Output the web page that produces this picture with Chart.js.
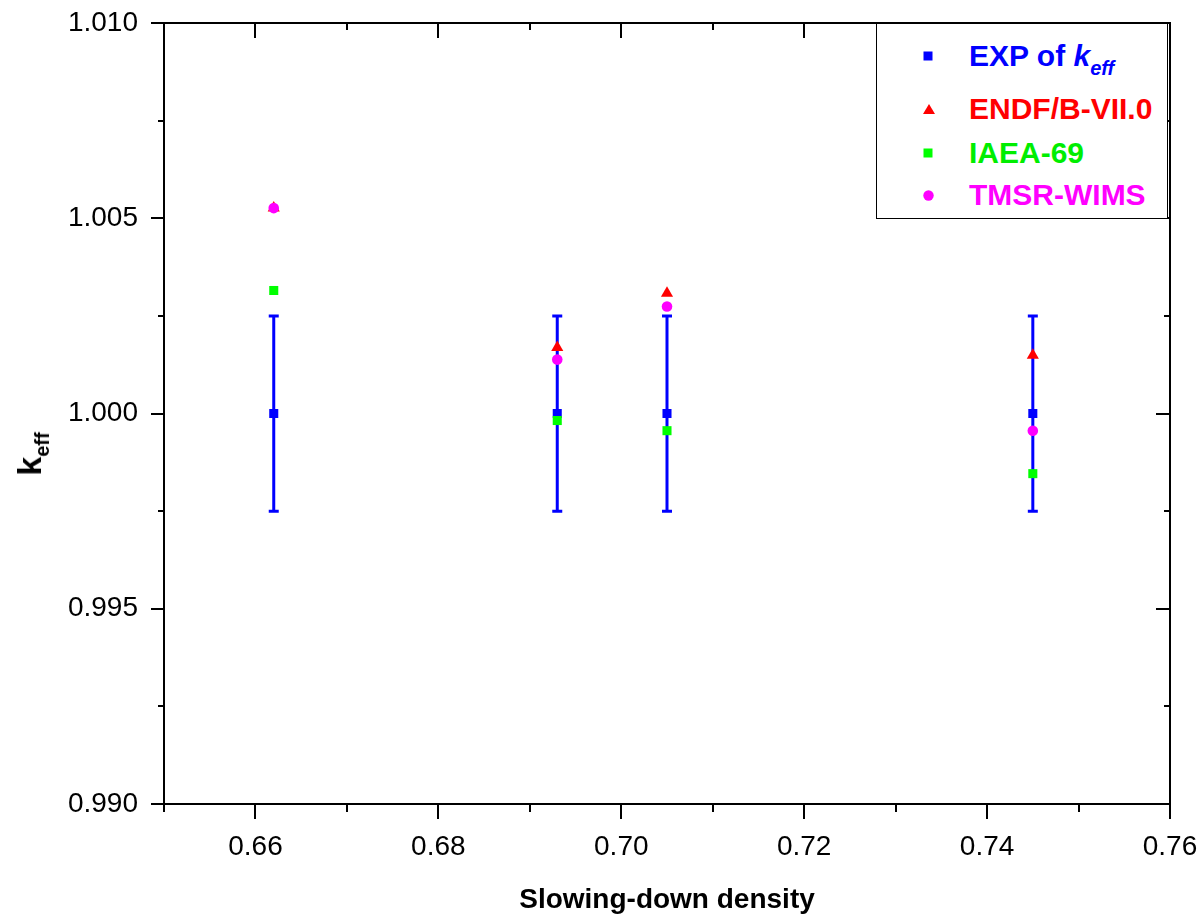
<!DOCTYPE html>
<html>
<head>
<meta charset="utf-8">
<script src="https://cdn.jsdelivr.net/npm/chart.js@4/dist/chart.umd.min.js"></script>
<style>
  body { margin: 0; background: #fff; }
  #wrap { position: relative; width: 1204px; height: 917px; font-family: "Liberation Sans", Arial, sans-serif; }
  #legend { position: absolute; left: 876px; top: 23px; width: 292px; height: 196px; border: 1px solid #000; box-sizing: border-box; background: #fff; }
  .row { position: absolute; left: 0; font-weight: bold; font-size: 30px; line-height: 30px; white-space: nowrap; }
  .mk { position: absolute; left: 46px; }
  .txt { position: absolute; left: 92px; top: 0; }
  #ytitle { position: absolute; left: 32px; top: 454px; transform: translate(-50%, -50%) rotate(-90deg); font-weight: bold; font-size: 34px; white-space: nowrap; }
  #ytitle sub { font-size: 20px; vertical-align: -8px; }
</style>
</head>
<body>
<div id="wrap">
  <canvas id="chart" width="1204" height="917"></canvas>
  <div id="ytitle">k<sub>eff</sub></div>
  <div id="legend">
    <div class="row" style="top:17px;color:#0000ff">
      <svg class="mk" style="top:10px" width="10" height="10"><rect x="0.5" y="0.5" width="9" height="9" fill="#0000ff"/></svg>
      <span class="txt">EXP of <i>k</i><sub style="font-size:20px;font-style:italic;vertical-align:-9px">eff</sub></span>
    </div>
    <div class="row" style="top:70px;color:#ff0000">
      <svg class="mk" style="top:9px" width="12" height="12"><polygon points="6,1 12,11 0,11" fill="#ff0000"/></svg>
      <span class="txt">ENDF/B-VII.0</span>
    </div>
    <div class="row" style="top:114px;color:#00ee00">
      <svg class="mk" style="top:10px" width="10" height="10"><rect x="0.5" y="0.5" width="9" height="9" fill="#00ff00"/></svg>
      <span class="txt">IAEA-69</span>
    </div>
    <div class="row" style="top:156px;color:#ff00ff">
      <svg class="mk" style="top:10px" width="11" height="11"><circle cx="5.5" cy="5.5" r="5.2" fill="#ff00ff"/></svg>
      <span class="txt">TMSR-WIMS</span>
    </div>
  </div>
</div>
<script>
// slowing-down density of each case
const density = [0.662, 0.693, 0.705, 0.745];

// k_eff values
const expKeff = [1.000, 1.000, 1.000, 1.000];
const expErr = [0.0025, 0.0025, 0.0025, 0.0025];
const endfKeff = [1.00526, 1.00169, 1.00308, 1.00149];
const iaeaKeff = [1.00315, 0.99982, 0.99956, 0.99846];
const tmsrKeff = [1.00526, 1.00138, 1.00274, 0.99956];

// axis ticks
const xTicks = [0.66, 0.68, 0.70, 0.72, 0.74, 0.76];
const xMinor = [0.65, 0.67, 0.69, 0.71, 0.73, 0.75];
const yTicks = [0.990, 0.995, 1.000, 1.005, 1.010];
const yMinor = [0.9925, 0.9975, 1.0025, 1.0075];

const pts = (ys) => density.map((x, i) => ({ x: x, y: ys[i] }));

// error bars for the experiment points
const errorBars = {
    id: "errorBars",
    beforeDatasetsDraw(chart) {
        const { ctx, scales: { x, y } } = chart;
        ctx.save();
        ctx.strokeStyle = "#0000ff";
        ctx.lineWidth = 3;
        density.forEach((d, i) => {
            const px = x.getPixelForValue(d);
            const top = y.getPixelForValue(expKeff[i] + expErr[i]);
            const bot = y.getPixelForValue(expKeff[i] - expErr[i]);
            ctx.beginPath();
            ctx.moveTo(px, top); ctx.lineTo(px, bot);
            ctx.moveTo(px - 5, top); ctx.lineTo(px + 5, top);
            ctx.moveTo(px - 5, bot); ctx.lineTo(px + 5, bot);
            ctx.stroke();
        });
        ctx.restore();
    }
};

// frame and tick marks (outward left/bottom, inward top/right)
const frame = {
    id: "frame",
    afterDraw(chart) {
        const { ctx, chartArea: a, scales: { x, y } } = chart;
        ctx.save();
        ctx.strokeStyle = "#000";
        ctx.lineWidth = 2;
        ctx.strokeRect(a.left, a.top, a.right - a.left, a.bottom - a.top);
        ctx.beginPath();
        const tickX = (v, out, inn) => {
            const px = Math.round(x.getPixelForValue(v));
            ctx.moveTo(px, a.bottom); ctx.lineTo(px, a.bottom + out);
            ctx.moveTo(px, a.top); ctx.lineTo(px, a.top + inn);
        };
        const tickY = (v, out, inn) => {
            const py = Math.round(y.getPixelForValue(v));
            ctx.moveTo(a.left, py); ctx.lineTo(a.left - out, py);
            ctx.moveTo(a.right, py); ctx.lineTo(a.right - inn, py);
        };
        xTicks.forEach(v => tickX(v, 15, 15));
        xMinor.forEach(v => tickX(v, 8, 7));
        yTicks.forEach(v => tickY(v, 13, 14));
        yMinor.forEach(v => tickY(v, 6, 6));
        ctx.stroke();
        ctx.restore();
    }
};

new Chart(document.getElementById("chart"), {
    type: "scatter",
    data: {
        datasets: [
            { label: "EXP of keff", data: pts(expKeff), order: 3, pointStyle: "rect", pointRadius: 6.4, backgroundColor: "#0000ff", borderWidth: 0 },
            { label: "ENDF/B-VII.0", data: pts(endfKeff), order: 2, pointStyle: "triangle", pointRadius: 7, backgroundColor: "#ff0000", borderWidth: 0 },
            { label: "IAEA-69", data: pts(iaeaKeff), order: 1, pointStyle: "rect", pointRadius: 6.4, backgroundColor: "#00ff00", borderWidth: 0 },
            { label: "TMSR-WIMS", data: pts(tmsrKeff), order: 0, pointStyle: "circle", pointRadius: 5.3, backgroundColor: "#ff00ff", borderWidth: 0 }
        ]
    },
    options: {
        responsive: false,
        animation: false,
        layout: { padding: { top: 23, right: 34, left: 0, bottom: 0 } },
        plugins: { legend: { display: false }, tooltip: { enabled: false } },
        scales: {
            x: {
                min: 0.65, max: 0.76,
                grid: { display: false, drawTicks: false },
                border: { display: false },
                afterBuildTicks: (s) => { s.ticks = xTicks.map(v => ({ value: v })); },
                afterFit: (s) => { s.height = 113; s.paddingLeft = 0; s.paddingRight = 0; },
                ticks: { color: "#000", padding: 26, font: { family: "Liberation Sans", size: 28 }, callback: (v) => v.toFixed(2) },
                title: { display: true, text: "Slowing-down density", color: "#000", padding: { top: 0, bottom: 0 }, font: { family: "Liberation Sans", size: 28, weight: "bold" } }
            },
            y: {
                min: 0.990, max: 1.010,
                grid: { display: false, drawTicks: false },
                border: { display: false },
                afterBuildTicks: (s) => { s.ticks = yTicks.map(v => ({ value: v })); },
                afterFit: (s) => { s.width = 164; s.paddingTop = 0; s.paddingBottom = 0; },
                ticks: { color: "#000", padding: 26, font: { family: "Liberation Sans", size: 28 }, callback: (v) => v.toFixed(3) }
            }
        }
    },
    plugins: [errorBars, frame]
});
</script>
</body>
</html>
